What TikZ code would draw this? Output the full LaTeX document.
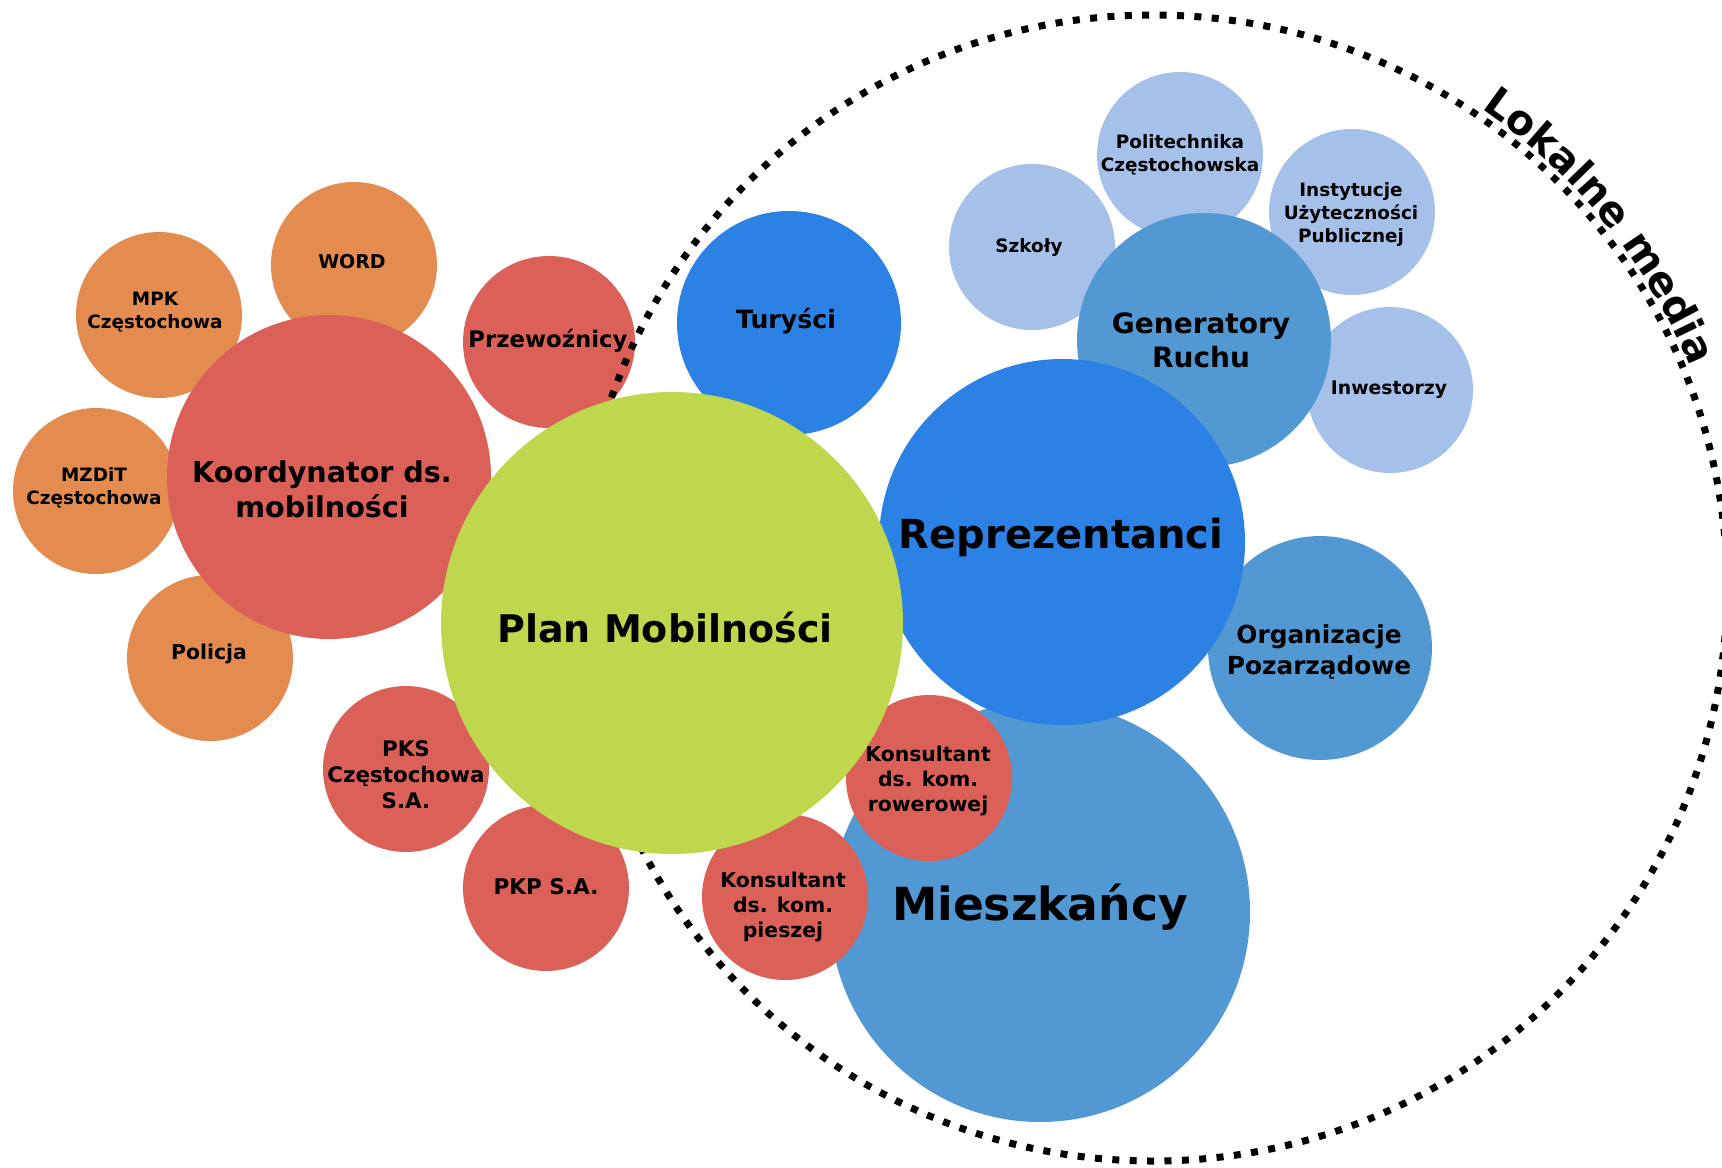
\documentclass[tikz,border=0pt]{standalone}
\usepackage{fontspec}
\setmainfont{DejaVu Sans}
\usetikzlibrary{decorations.text}

\definecolor{cOrange}{RGB}{228,140,79}
\definecolor{cRed}{RGB}{219,97,88}
\definecolor{cGreen}{RGB}{190,215,76}
\definecolor{cBlueA}{RGB}{44,129,228}
\definecolor{cBlueB}{RGB}{82,153,212}
\definecolor{cBlueC}{RGB}{165,192,233}

\begin{document}
\begin{tikzpicture}[x=0.5pt,y=0.5pt,
  bub/.style={circle, inner sep=0pt, outer sep=0pt, minimum size=#1},
  orangeb/.style={bub=#1, fill=cOrange},
  redb/.style={bub=#1, fill=cRed},
  greenb/.style={bub=#1, fill=cGreen},
  blueA/.style={bub=#1, fill=cBlueA},
  blueB/.style={bub=#1, fill=cBlueB},
  blueC/.style={bub=#1, fill=cBlueC},
  lbl/.style 2 args={align=center, inner sep=0pt, text=black,
    font=\fontsize{#1}{#2}\selectfont\bfseries},
  mediaring/.style={draw=black, line width=3.5pt, dash pattern=on 3.5pt off 5.2pt},
]
\fill[white] (0,0) rectangle (1722,-1167);
\useasboundingbox (0,0) rectangle (1722,-1167);

% --- traffic generators (light blue) ---
\node[blueC=83pt] (szkoly) at (1032,-247) {};
\node[blueC=83pt] (poli)   at (1180,-155) {};
\node[blueC=83pt] (inst)   at (1352,-212) {};
\node[blueC=83pt] (inwest) at (1390,-390) {};

% --- stakeholder groups (mid blue) ---
\node[blueB=127pt] (gen)   at (1204,-340) {};
\node[blueB=112pt] (org)   at (1320,-648) {};
\node[blueB=210pt] (miesz) at (1040,-912) {};

% --- consultants ---
\node[redb=83pt] (krower) at (929,-778) {};
\node[redb=83pt] (kpiesz) at (785,-897) {};

% --- representatives ---
\node[blueA=183pt] (rep) at (1062,-542) {};
\node[blueA=112pt] (tur) at (789,-323) {};

% --- institutions (orange) ---
\node[orangeb=83pt] (word)    at (354,-265) {};
\node[orangeb=83pt] (mpk)     at (159,-315) {};
\node[orangeb=83pt] (mzdit)   at (96,-491) {};
\node[orangeb=83pt] (policja) at (210,-658) {};

% --- coordinator and carriers (red) ---
\node[redb=162pt] (koord) at (329,-477) {};
\node[redb=86pt]  (przew) at (549,-342) {};
\node[redb=83pt]  (pks)   at (406,-769) {};
\node[redb=83pt]  (pkp)   at (546,-888) {};

% --- local media ring ---
\draw[mediaring] (1153,-588) ellipse [x radius=287pt, y radius=286.5pt];

% --- the plan itself ---
\node[greenb=231pt] (plan) at (672,-623) {};

% --- labels ---
\node[lbl={19pt}{23pt}]   (plan-t)   at (665,-627) {Plan Mobilności};
\node[lbl={20pt}{24pt}]   (rep-t)    at (1061,-537) {Reprezentanci};
\node[lbl={22.8pt}{27pt}] (miesz-t)  at (1040,-907) {Mieszkańcy};
\node[lbl={14.3pt}{17.5pt}] (koord-t) at (322,-489) {Koordynator ds.\\mobilności};
\node[lbl={14pt}{17pt}]   (gen-t)    at (1201,-340) {Generatory\\Ruchu};
\node[lbl={12.4pt}{15.5pt}] (org-t)  at (1319,-652) {Organizacje\\Pozarządowe};
\node[lbl={12.6pt}{14pt}] (tur-t)    at (786,-321) {Turyści};
\node[lbl={11.4pt}{13pt}] (przew-t)  at (548,-341) {Przewoźnicy};
\node[lbl={10.2pt}{12.5pt}] (krower-t) at (928,-781) {Konsultant\\ds. kom.\\rowerowej};
\node[lbl={10.2pt}{12.5pt}] (kpiesz-t) at (783,-907) {Konsultant\\ds. kom.\\pieszej};
\node[lbl={10.7pt}{13pt}] (pks-t)    at (406,-775) {PKS\\Częstochowa\\S.A.};
\node[lbl={10.8pt}{13pt}] (pkp-t)    at (546,-887) {PKP S.A.};
\node[lbl={10.2pt}{12pt}] (policja-t) at (209,-654) {Policja};
\node[lbl={9.5pt}{11.5pt}] (word-t)  at (352,-262) {WORD};
\node[lbl={9.2pt}{11.5pt}] (mpk-t)   at (155,-312) {MPK\\Częstochowa};
\node[lbl={9.2pt}{11.5pt}] (mzdit-t) at (94,-488) {MZDiT\\Częstochowa};
\node[lbl={9.2pt}{11.5pt}] (szkoly-t) at (1029,-247) {Szkoły};
\node[lbl={9.2pt}{11.5pt}] (poli-t)  at (1180,-155) {Politechnika\\Częstochowska};
\node[lbl={9.2pt}{11.5pt}] (inst-t)  at (1351,-214) {Instytucje\\Użyteczności\\Publicznej};
\node[lbl={9.4pt}{11.5pt}] (inwest-t) at (1389,-390) {Inwestorzy};

% --- ring caption following the arc ---
\path[decorate, decoration={text along path, text align=center,
    text={|\fontsize{20.5pt}{24pt}\selectfont\bfseries|Lokalne media}}]
  ([shift={(1153,-588)}]56.5:290.5pt) arc[start angle=56.5, end angle=21.5, radius=290.5pt];
\end{tikzpicture}
\end{document}
